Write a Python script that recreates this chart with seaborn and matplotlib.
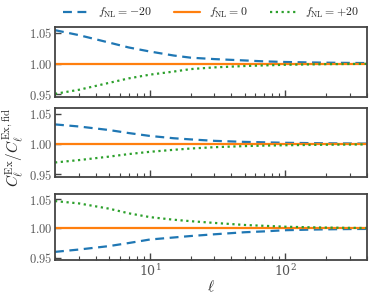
import numpy as np
import pandas as pd
import matplotlib
matplotlib.use("Agg")
import matplotlib.pyplot as plt
import matplotlib.ticker as mticker
import seaborn as sns

# ----------------------------
# Data
# ----------------------------
ell = [2, 3, 5, 7, 10, 15, 20, 30, 50, 70, 100, 150, 200, 300, 400]

p1_minus = [1.054, 1.046, 1.034, 1.026, 1.0195, 1.013, 1.0095, 1.0072, 1.005, 1.0035,
            1.0025, 1.0018, 1.0014, 1.001, 1.0008]
p1_plus = [0.951, 0.9575, 0.9687, 0.976, 0.982, 0.987, 0.991, 0.9938, 0.996, 0.997,
           0.998, 0.9986, 0.999, 0.9993, 0.9995]

p2_minus = [1.0322, 1.0288, 1.023, 1.018, 1.0133, 1.0095, 1.0076, 1.0052, 1.0035, 1.0028,
            1.002, 1.0015, 1.0012, 1.0009, 1.0007]
p2_plus = [0.9697, 0.9736, 0.9793, 0.9835, 0.9872, 0.9905, 0.9926, 0.9948, 0.9966, 0.9974,
           0.998, 0.9985, 0.9988, 0.9991, 0.9993]

p3_minus = [0.9598, 0.9638, 0.9697, 0.975, 0.981, 0.9845, 0.987, 0.990, 0.9935, 0.995,
            0.997, 0.998, 0.9985, 0.999, 0.9992]
p3_plus = [1.047, 1.043, 1.034, 1.026, 1.0195, 1.015, 1.0125, 1.0095, 1.006, 1.0045,
           1.003, 1.002, 1.0015, 1.001, 1.0008]

fid = [1.0] * len(ell)

labels = [r"$f_{\rm NL}=-20$", r"$f_{\rm NL}=0$", r"$f_{\rm NL}=+20$"]
panels = [(p1_minus, p1_plus), (p2_minus, p2_plus), (p3_minus, p3_plus)]

# ----------------------------
# Style
# ----------------------------
sns.set_theme(style="ticks")
plt.rcParams["font.family"] = ["DejaVu Serif"]
plt.rcParams["mathtext.fontset"] = "cm"
plt.rcParams["axes.edgecolor"] = "#444444"
plt.rcParams["xtick.color"] = "#444444"
plt.rcParams["ytick.color"] = "#444444"
plt.rcParams["xtick.labelcolor"] = "#555555"
plt.rcParams["ytick.labelcolor"] = "#555555"

colors = ["#1f77b4", "#ff7f0e", "#2ca02c"]
styles = [(0, (4, 2.5)), "-", (0, (1, 1.6))]
widths = [1.6, 1.6, 1.6]

fig, axes = plt.subplots(3, 1, figsize=(3.73, 2.95), dpi=100, sharex=True, sharey=True)

boxes = [(27, 97), (108, 177), (194, 260)]
for ax, (top, bot) in zip(axes, boxes):
    ax.set_position([55 / 373, 1 - bot / 295, (367 - 55) / 373, (bot - top) / 295])

for ax, (minus, plus) in zip(axes, panels):
    df = pd.DataFrame({"ell": ell, "minus": minus, "fid": fid, "plus": plus})
    for col, c, ls, lw, lab in zip(["minus", "fid", "plus"], colors, styles, widths, labels):
        sns.lineplot(data=df, x="ell", y=col, ax=ax, color=c, linestyle=ls,
                     linewidth=lw, label=lab, legend=False)
    ax.set_xscale("log")
    ax.set_xlim(2, 400)
    ax.set_xlabel("")
    ax.set_ylabel("")
    ax.set_yticks([0.95, 1.00, 1.05])
    ax.yaxis.set_major_formatter(mticker.FuncFormatter(lambda v, p: f"${v:.2f}$"))
    ax.tick_params(axis="both", which="both", direction="in", labelsize=9, pad=2)
    ax.tick_params(axis="x", which="major", length=5, width=1)
    ax.tick_params(axis="x", which="minor", length=3, width=0.8)
    ax.tick_params(axis="y", length=4, width=1)
    for s in ax.spines.values():
        s.set_linewidth(1.3)

axes[-1].xaxis.set_major_formatter(mticker.LogFormatterMathtext())
axes[-1].set_xlabel(r"$\ell$", fontsize=11, labelpad=0)

h, l = axes[0].get_legend_handles_labels()
fig.legend(h, l, loc="upper center", ncol=3, frameon=False, fontsize=8.5,
           bbox_to_anchor=(0.566, 1.015), handlelength=2.2, handletextpad=0.75,
           columnspacing=1.9)

fig.text(0.035, 0.5, r"$C_\ell^{\rm Ex}/C_\ell^{\rm Ex,fid}$", rotation=90,
         va="center", ha="center", fontsize=11)

fig.savefig("out.png", dpi=100)
